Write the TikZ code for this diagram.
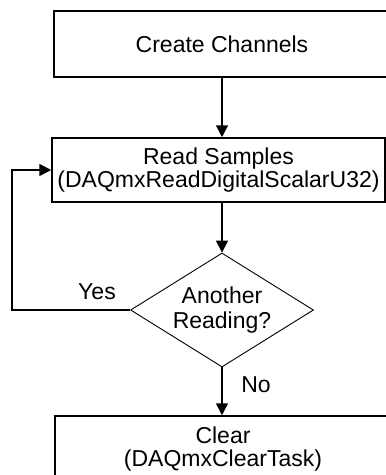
\documentclass[tikz,border=0pt]{standalone}
\usepackage{fontspec}
\setmainfont{Liberation Sans}
\usetikzlibrary{shapes.geometric, arrows.meta}

\begin{document}
\begin{tikzpicture}[x=1pt, y=-1pt,
		font=\fontsize{23}{23}\selectfont,
		box/.style={draw, line width=1.5pt, minimum width=336pt, minimum height=66pt, inner sep=0pt, align=center},
		choice/.style={draw, diamond, aspect=1.6, line width=0.9pt, minimum width=183pt, minimum height=114pt, inner sep=0pt, align=center},
		flow/.style={line width=1.5pt, -{Triangle[width=12pt,length=12pt]}}]
					\clip (0,0) rectangle (386,475);
					\node[box] (create) at (222,44) {Create Channels};
					\node[box, minimum width=333pt, minimum height=64pt] (read) at (218.5,170) {Read Samples\\(DAQmxReadDigitalScalarU32)};
					\node[choice] (decide) at (222,310) {Another\\[2pt]Reading?};
					\node[box] (clear) at (223,449) {Clear\\(DAQmxClearTask)};
					\coordinate (loop) at (12,0);
					\draw[flow] (create) -- (read.north -| create);
					\draw[flow] (read.south -| decide) -- (decide);
					\draw[flow] (decide) -- (clear.north -| decide);
					\draw[flow] (decide.west) -- (decide.west -| loop) |- (read.west);
					\node (yes) at (97,292) {Yes};
					\node (no) at (256,385) {No};
				\end{tikzpicture}
\end{document}
